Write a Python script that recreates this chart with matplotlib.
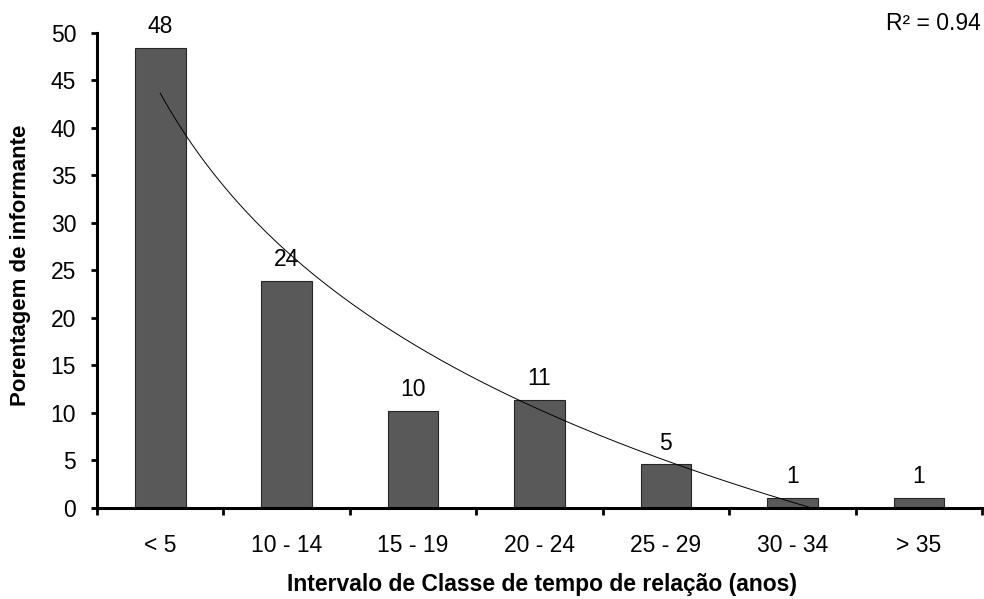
import numpy as np
import matplotlib.pyplot as plt
from matplotlib.ticker import FixedLocator, NullFormatter

plt.rcParams['font.family'] = ['Liberation Sans', 'DejaVu Sans']

# classes de tempo de relação e porcentagem de informantes
classes = ['< 5', '10 - 14', '15 - 19', '20 - 24', '25 - 29', '30 - 34', '> 35']
porcentagem = [48.4, 23.9, 10.2, 11.4, 4.6, 1.1, 1.1]
r2_text = 'R² = 0.94'


def plot_chart():
    fig = plt.figure(figsize=(9.84, 5.99), dpi=100)
    ax = fig.add_axes([97 / 984, 1 - 508 / 599, 885 / 984, 475.5 / 599])

    x = np.arange(len(classes))
    ax.bar(x, porcentagem, width=0.4, color='#595959', edgecolor='#262626', linewidth=0.8)

    for xi, v in zip(x, porcentagem):
        ax.annotate(f'{v:.0f}', (xi, v), xytext=(0, 7), textcoords='offset points',
                    ha='center', va='bottom', fontsize=16.5)

    # linha de tendência logarítmica, até cruzar o zero
    rank = x + 1
    a, b = np.polyfit(np.log(rank), porcentagem, 1)
    x_end = np.exp(-b / a)
    xt = np.linspace(1, x_end, 200)
    ax.plot(xt - 1, a * np.log(xt) + b, color='black', linewidth=0.7)

    ax.set_xlim(-0.5, len(classes) - 0.5)
    ax.set_ylim(0, 50)
    ax.set_yticks(range(0, 51, 5))
    ax.set_xticks(x)
    ax.set_xticklabels(classes)
    ax.xaxis.set_minor_locator(FixedLocator(np.arange(-0.5, len(classes), 1)))
    ax.xaxis.set_minor_formatter(NullFormatter())
    ax.tick_params(axis='x', which='major', length=0, pad=19, labelsize=16.5)
    ax.tick_params(axis='x', which='minor', length=5, width=2, direction='out')
    ax.tick_params(axis='y', length=4.5, width=2, direction='out', pad=10.5, labelsize=16.5)

    for side in ['top', 'right']:
        ax.spines[side].set_visible(False)
    for side in ['left', 'bottom']:
        ax.spines[side].set_linewidth(2.2)

    fig.text(542 / 984, 1 - 584 / 599, 'Intervalo de Classe de tempo de relação (anos)',
             ha='center', va='center', fontsize=16.5, fontweight='bold')
    fig.text(21 / 984, 1 - 265 / 599, 'Porentagem de informante', rotation=90,
             ha='center', va='center', fontsize=16, fontweight='bold')
    fig.text(981 / 984, 1 - 23 / 599, r2_text, ha='right', va='center', fontsize=16.5)

    fig.savefig('out.png', dpi=100)


if __name__ == "__main__":
    plot_chart()
